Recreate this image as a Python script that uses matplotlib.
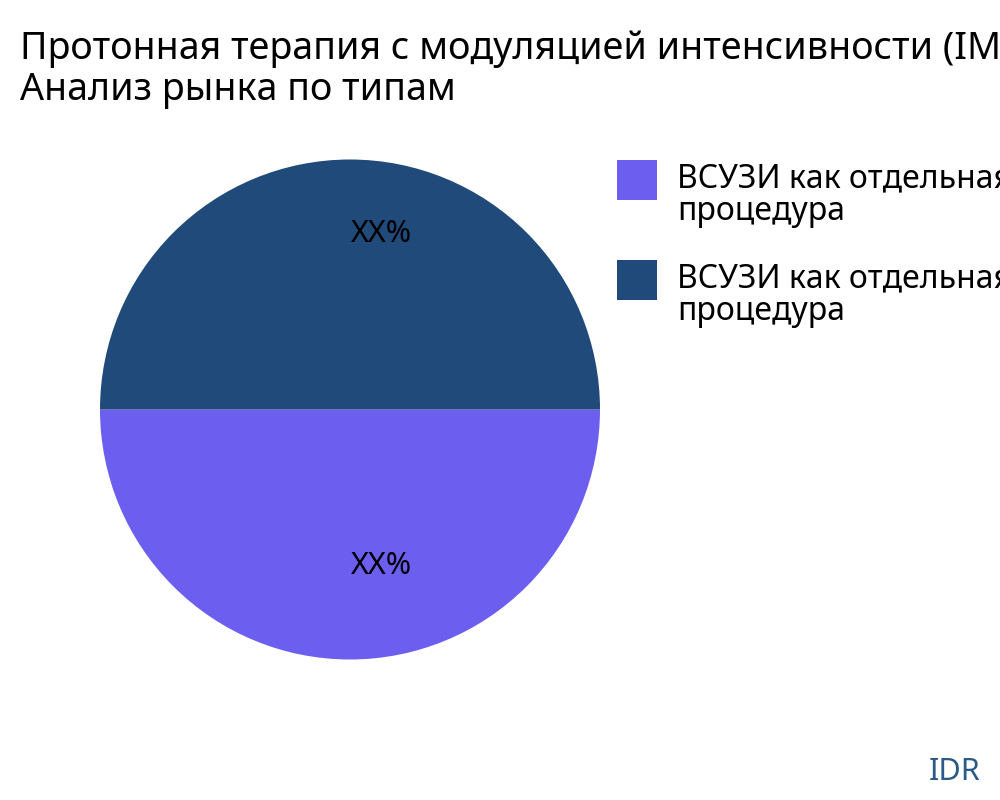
import matplotlib.pyplot as plt
from matplotlib.patches import Rectangle

plt.rcParams['font.family'] = ['Noto Sans', 'DejaVu Sans']

title = 'Протонная терапия с модуляцией интенсивности (IMPT)\nАнализ рынка по типам'
labels = ['ВСУЗИ как отдельная\nпроцедура', 'ВСУЗИ как отдельная\nпроцедура']
values = [50, 50]
colors = ['#6c5ff0', '#1f4a79']

fig = plt.figure(figsize=(10, 8), dpi=100)
ax = fig.add_axes([0.0375, 0.0975, 0.625, 0.78125])

wedges, texts, autotexts = ax.pie(values, colors=colors, startangle=180,
                                  autopct=lambda p: 'XX%', pctdistance=0.664,
                                  textprops={'fontsize': 22, 'color': 'black'})
# plotly-like offset of inside labels
for t in autotexts:
    x, y = t.get_position()
    t.set_position((x + 0.124, y + 0.04))
ax.set_aspect('equal')

# title (va='baseline' aligns the last line)
fig.text(0.02, 1 - 100 / 800, title, fontsize=27.1, va='baseline', ha='left',
         linespacing=1.1)

# legend drawn by hand, plotly style
for i, (lab, c) in enumerate(zip(labels, colors)):
    top = 160 + i * 100
    fig.patches.append(Rectangle((617 / 1000, 1 - (top + 40) / 800), 40 / 1000, 40 / 800,
                                 transform=fig.transFigure, facecolor=c, edgecolor='none'))
    fig.text(677 / 1000, 1 - (top + 60) / 800, lab, fontsize=23, va='baseline',
             ha='left', linespacing=0.98)

fig.text(0.98, 1 - 780 / 800, 'IDR', fontsize=22, color='#2a5a88', ha='right', va='baseline')

fig.savefig('out.png')
